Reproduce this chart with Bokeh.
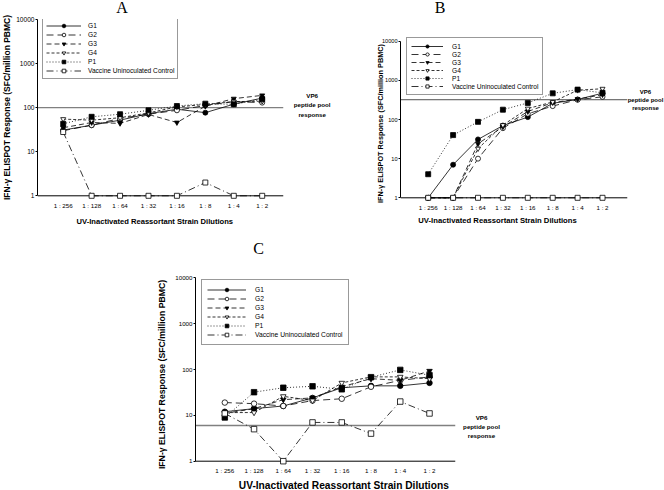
import math
from bokeh.plotting import figure
from bokeh.models import (Range1d, FixedTicker, PrintfTickFormatter, Span, Label,
                          Legend, LegendItem)
from bokeh.layouts import column, row
from bokeh.embed import file_html
from bokeh.resources import INLINE

# ---------------- data ----------------
dilutions = ["1 : 256", "1 : 128", "1 : 64", "1 : 32", "1 : 16", "1 : 8", "1 : 4", "1 : 2"]
series_labels = ["G1", "G2", "G3", "G4", "P1", "Vaccine Uninoculated Control"]
y_ticks = [1, 10, 100, 1000, 10000]

# Panel A
A_G1 = [31, 40, 52, 73, 92, 77, 120, 165]
A_G2 = [30, 40, 57, 71, 87, 112, 137, 130]
A_G3 = [35, 46, 44, 70, 46, 108, 160, 190]
A_G4 = [55, 52, 59, 76, 104, 118, 137, 140]
A_P1 = [43, 62, 71, 87, 109, 123, 119, 155]
A_VUC = [28, 1, 1, 1, 1, 2, 1, 1]
A_VP6 = 100

# Panel B
B_G1 = [1, 7, 31, 70, 115, 260, 325, 470]
B_G2 = [1, 1, 10, 60, 140, 220, 320, 380]
B_G3 = [1, 1, 24, 65, 160, 270, 330, 430]
B_G4 = [1, 1, 18, 72, 190, 280, 560, 610]
B_P1 = [4, 40, 87, 178, 265, 466, 580, 480]
B_VUC = [1, 1, 1, 1, 1, 1, 1, 1]
B_VP6 = 320

# Panel C
C_G1 = [12, 14, 16, 24, 40, 44, 44, 51]
C_G2 = [19, 18, 16, 21, 23, 42, 58, 69]
C_G3 = [11, 14, 22, 24, 42, 63, 58, 93]
C_G4 = [11.5, 11.5, 26, 21, 51, 69, 69, 63]
C_P1 = [9, 32, 40, 43, 37, 68, 98, 75]
C_VUC = [11, 5, 1, 7, 7, 4, 20, 11]
C_VP6 = 6

x_title = "UV-Inactivated Reassortant Strain Dilutions"
y_title = "IFN-\u03b3 ELISPOT Response (SFC/million PBMC)"
vp6_text = "VP6\npeptide pool\nresponse"

# ---------------- styles ----------------
STYLES = [
    dict(dash="solid", marker="circle", fill="black"),
    dict(dash="7 4", marker="circle", fill="white"),
    dict(dash="5 3", marker="inverted_triangle", fill="black"),
    dict(dash="3 2", marker="inverted_triangle", fill="white"),
    dict(dash="1 2", marker="square", fill="black"),
    dict(dash="7 3 1 3", marker="square", fill="white"),
]
SANS = "Liberation Sans"
SERIF = "Liberation Serif"


def make_panel(cfg, series, vp6):
    gx, gy, W, H = cfg["fig"]
    fl, ft, fr, fb = cfg["frame"]
    L, R, T, B = fl - gx, gx + W - fr, ft - gy, gy + H - fb
    fh = fb - ft
    # pixel geometry of the value axis (1 and 10000) and the category axis
    y1_px, y4_px = cfg["y_px"]
    dec = (y1_px - y4_px) / 4.0
    c0_px, c7_px = cfg["cat_px"]
    step = (c7_px - c0_px) / 7.0

    def dx(px):
        return 1 + (px - c0_px) / step

    def dy(py):
        return 10 ** ((y1_px - py) / dec)

    p = figure(width=W, height=H, x_range=Range1d(dx(fl), dx(fr)),
               y_range=Range1d(dy(fb), dy(ft)),
               y_axis_type="log", output_backend="svg", toolbar_location=None,
               min_border_left=L, min_border_right=R, min_border_top=T, min_border_bottom=B)
    p.xgrid.visible = False
    p.ygrid.visible = False
    p.outline_line_color = None
    p.background_fill_color = "white"
    p.border_fill_color = "white"

    xs = list(range(1, len(dilutions) + 1))

    xa = p.xaxis[0]
    xa.ticker = FixedTicker(ticks=xs, minor_ticks=[])
    xa.major_label_overrides = {i: lab for i, lab in zip(xs, dilutions)}
    xa.major_tick_line_color = None
    xa.minor_tick_line_color = None
    xa.major_tick_out = 0
    xa.major_tick_in = 0
    xa.major_label_standoff = cfg["xtick_standoff"]
    xa.major_label_text_font = SANS
    xa.major_label_text_font_size = cfg["xtick_fs"]
    xa.major_label_text_color = "black"
    xa.axis_line_color = None

    ya = p.yaxis[0]
    ya.ticker = FixedTicker(ticks=y_ticks, minor_ticks=[])
    ya.formatter = PrintfTickFormatter(format="%d")
    ya.bounds = (y_ticks[0], y_ticks[-1])
    ya.minor_tick_line_color = None
    ya.major_tick_out = 2
    ya.major_tick_in = 0
    ya.major_label_standoff = 1
    ya.major_label_text_font = SANS
    ya.major_label_text_font_size = cfg["ytick_fs"]
    ya.major_label_text_color = "black"
    ya.axis_line_color = "black"
    ya.axis_line_width = 1

    # category axis line at value 1
    p.add_layout(Span(location=y_ticks[0], dimension="width", line_color="black",
                      line_width=1, level="underlay"))
    # VP6 peptide pool reference line
    p.add_layout(Span(location=vp6, dimension="width", line_color=cfg["vp6_color"],
                      line_width=cfg["vp6_w"], level="underlay"))

    items = []
    for lab, ys, st in zip(series_labels, series, STYLES):
        lr = p.line(xs, ys, line_color="black", line_width=0.8, line_dash=st["dash"])
        sr = p.scatter(xs, ys, marker=st["marker"], size=cfg["msize"],
                       fill_color=st["fill"], line_color="black", line_width=0.8)
        items.append(LegendItem(label=lab, renderers=[lr, sr]))

    n = len(items)
    leg_h = 2 * cfg["leg_pad"] + n * cfg["leg_item_h"]
    lx, ly = cfg["leg_xy"]
    legend = Legend(items=items, location=(lx - fl, fh - (ly - ft) - leg_h), margin=0,
                    padding=cfg["leg_pad"], spacing=0,
                    glyph_width=cfg["leg_glyph_w"], glyph_height=cfg["leg_item_h"],
                    label_height=cfg["leg_item_h"], label_standoff=cfg["leg_standoff"],
                    label_text_font=SANS, label_text_font_size=cfg["leg_fs"],
                    label_text_color="black",
                    border_line_color="#333333", border_line_width=1,
                    background_fill_color="white", background_fill_alpha=1.0)
    p.add_layout(legend)

    # panel letter
    tx, ty = cfg["title_pos"]
    p.add_layout(Label(x=dx(tx), y=dy(ty), text=cfg["title"], text_font=SERIF,
                       text_font_size="16px", text_align="center",
                       text_baseline="middle", text_color="black"), cfg["title_side"])
    # x axis title
    ax, ay = cfg["xlabel_pos"]
    p.add_layout(Label(x=dx(ax), y=dy(ay), text=x_title, text_font=SANS,
                       text_font_style="bold", text_font_size=cfg["xlabel_fs"],
                       text_align="center", text_baseline="middle", text_color="black"),
                 "below")
    # y axis title
    bx, by = cfg["ylabel_pos"]
    p.add_layout(Label(x=dx(bx), y=dy(by), text=y_title, text_font=SANS,
                       text_font_style="bold", text_font_size=cfg["ylabel_fs"],
                       angle=math.pi / 2, text_align="center", text_baseline="middle",
                       text_color="black"), "left")
    # VP6 annotation
    vx, vy = cfg["vp6_pos"]
    p.add_layout(Label(x=dx(vx), y=dy(vy), text=vp6_text, text_font=SANS,
                       text_font_style="bold", text_font_size=cfg["vp6_fs"],
                       text_line_height=1.3, text_align="center",
                       text_baseline="middle", text_color="black"), cfg["vp6_side"])
    return p


cfgA = dict(fig=(0, 0, 336, 240), frame=(37, 19, 283, 201), y_px=(195.3, 19.0),
            cat_px=(62.7, 261.7), xtick_fs="6.2px", xtick_standoff=0, ytick_fs="6.6px",
            msize=5, leg_pad=3, leg_item_h=9, leg_xy=(42, 19), leg_glyph_w=35,
            leg_standoff=7, leg_fs="6.6px", title="A", title_pos=(121.5, 7),
            title_side="right", xlabel_pos=(154.3, 220.7), xlabel_fs="7.6px",
            ylabel_pos=(6, 107), ylabel_fs="8.5px", vp6_pos=(311.7, 104.5),
            vp6_fs="6.2px", vp6_side="right", vp6_color="#808080", vp6_w=1.4)

cfgB = dict(fig=(336, 0, 328, 240), frame=(400, 19, 627, 201), y_px=(197.3, 40.7),
            cat_px=(427.7, 602.0), xtick_fs="6.2px", xtick_standoff=2, ytick_fs="5.6px",
            msize=5, leg_pad=4, leg_item_h=8, leg_xy=(406, 39), leg_glyph_w=32,
            leg_standoff=9, leg_fs="6.6px", title="B", title_pos=(439.7, 7),
            title_side="left", xlabel_pos=(497, 220.3), xlabel_fs="7.7px",
            ylabel_pos=(380, 123), ylabel_fs="7.3px", vp6_pos=(645, 99.3),
            vp6_fs="6px", vp6_side="right", vp6_color="#505050", vp6_w=1.0)

cfgC = dict(fig=(0, 240, 664, 250), frame=(195, 277, 455, 465), y_px=(460.7, 277.3),
            cat_px=(224.3, 429.0), xtick_fs="6.2px", xtick_standoff=1, ytick_fs="6.2px",
            msize=5.5, leg_pad=5, leg_item_h=9, leg_xy=(201, 281), leg_glyph_w=39,
            leg_standoff=9, leg_fs="6.7px", title="C", title_pos=(258, 248),
            title_side="above", xlabel_pos=(343.3, 484.5), xlabel_fs="10.2px",
            ylabel_pos=(161.7, 374), ylabel_fs="8.7px", vp6_pos=(481, 426),
            vp6_fs="6.2px", vp6_side="right", vp6_color="#808080", vp6_w=1.4)

pA = make_panel(cfgA, [A_G1, A_G2, A_G3, A_G4, A_P1, A_VUC], A_VP6)
pB = make_panel(cfgB, [B_G1, B_G2, B_G3, B_G4, B_P1, B_VUC], B_VP6)
pC = make_panel(cfgC, [C_G1, C_G2, C_G3, C_G4, C_P1, C_VUC], C_VP6)

layout = column(row(pA, pB), pC)
open("out.html", "w").write(file_html(layout, INLINE))
